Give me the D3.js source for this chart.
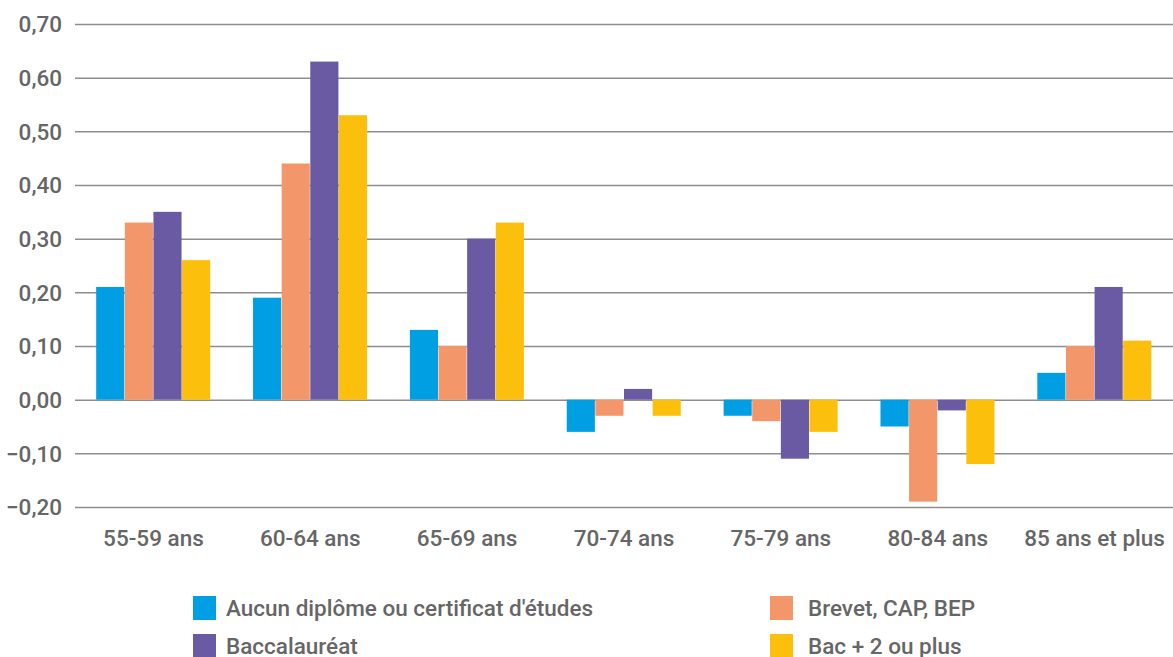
<!DOCTYPE html>
<html>
<head>
<meta charset="utf-8">
<script src="https://cdn.jsdelivr.net/npm/d3@7"></script>
<style>
  body { margin: 0; background: #fff; }
  text { font-family: "Roboto", "Liberation Sans", sans-serif; fill: #666; font-weight: 500; }
</style>
</head>
<body>
<svg id="chart" width="1173" height="657"></svg>
<script>
// categories and series
var categories = ["55-59 ans", "60-64 ans", "65-69 ans", "70-74 ans", "75-79 ans", "80-84 ans", "85 ans et plus"];
var seriesNames = ["Aucun diplôme ou certificat d'études", "Brevet, CAP, BEP", "Baccalauréat", "Bac + 2 ou plus"];
var aucun = [0.21, 0.19, 0.13, -0.06, -0.03, -0.05, 0.05];
var brevet = [0.33, 0.44, 0.10, -0.03, -0.04, -0.19, 0.10];
var bac = [0.35, 0.63, 0.30, 0.02, -0.11, -0.02, 0.21];
var bac2 = [0.26, 0.53, 0.33, -0.03, -0.06, -0.12, 0.11];
var yTicks = [-0.2, -0.1, 0, 0.1, 0.2, 0.3, 0.4, 0.5, 0.6, 0.7];
var colors = ["#009fe3", "#f39669", "#6a5aa3", "#fcbf0b"];

var config = {
  margin: { top: 24, right: 0, bottom: 150, left: 75 },
  width: 1173,
  height: 657,
  fontSize: "22.5px"
};

var values = [aucun, brevet, bac, bac2];
var svg = d3.select("#chart");
var m = config.margin;

var x = d3.scaleBand()
  .domain(categories)
  .range([m.left, config.width - m.right])
  .paddingInner(0.27)
  .paddingOuter(0.135);

var xs = d3.scaleBand()
  .domain(d3.range(seriesNames.length))
  .range([0, x.bandwidth()]);

var y = d3.scaleLinear()
  .domain([-0.2, 0.7])
  .range([507, 24]);

var fmt = function(d) { return d3.format(".2f")(d).replace(".", ","); };

// gridlines
svg.append("g")
  .selectAll("line")
  .data(yTicks)
  .enter().append("line")
    .attr("x1", m.left)
    .attr("x2", config.width)
    .attr("y1", function(d) { return y(d) + 0.5; })
    .attr("y2", function(d) { return y(d) + 0.5; })
    .attr("stroke", "#8e8e8e")
    .attr("stroke-width", 1.5);

// y axis labels
var yAxis = d3.axisLeft(y).tickValues(yTicks).tickFormat(fmt).tickSize(0).tickPadding(13);
var ga = svg.append("g")
  .attr("transform", "translate(" + m.left + ",0)")
  .call(yAxis);
ga.select(".domain").remove();
ga.selectAll("text")
  .style("font-size", config.fontSize)
  .attr("fill", "#666")
  .attr("dy", "0.35em");

// bars
var groups = svg.append("g")
  .selectAll("g")
  .data(categories)
  .enter().append("g")
    .attr("transform", function(d) { return "translate(" + x(d) + ",0)"; });

groups.selectAll("rect")
  .data(function(d, i) { return values.map(function(s, j) { return { s: j, v: s[i] }; }); })
  .enter().append("rect")
    .attr("x", function(d) { return xs(d.s); })
    .attr("width", xs.bandwidth() - 0.5)
    .attr("y", function(d) { return y(Math.max(0, d.v)); })
    .attr("height", function(d) { return Math.abs(y(d.v) - y(0)); })
    .attr("fill", function(d) { return colors[d.s]; });

// x axis labels
var xAxis = d3.axisBottom(x).tickSize(0).tickPadding(0);
var gx = svg.append("g")
  .attr("transform", "translate(0,529)")
  .call(xAxis);
gx.select(".domain").remove();
gx.selectAll("text")
  .style("font-size", config.fontSize)
  .attr("fill", "#666")
  .attr("dy", "0.75em");

// legend
var legendPos = [[193, 596], [770, 596], [193, 634], [770, 634]];
var legend = svg.append("g")
  .selectAll("g")
  .data(d3.range(seriesNames.length))
  .enter().append("g")
    .attr("transform", function(d, i) { return "translate(" + legendPos[i][0] + "," + legendPos[i][1] + ")"; });
legend.append("rect")
  .attr("width", 23)
  .attr("height", 24)
  .attr("fill", function(d) { return colors[d]; });
legend.append("text")
  .attr("x", function(d, i) { return i % 2 ? 38 : 33; })
  .attr("y", 20)
  .style("font-size", config.fontSize)
  .text(function(d) { return seriesNames[d]; });
</script>
</body>
</html>
